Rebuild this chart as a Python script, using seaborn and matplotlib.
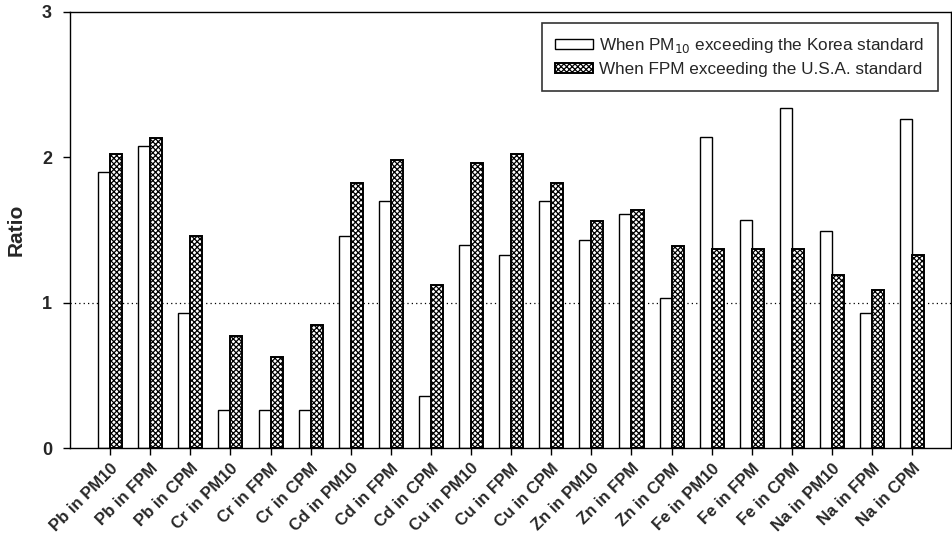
import matplotlib
matplotlib.use("Agg")
import matplotlib.pyplot as plt
import seaborn as sns
import pandas as pd

categories = [
    "Pb in PM10", "Pb in FPM", "Pb in CPM",
    "Cr in PM10", "Cr in FPM", "Cr in CPM",
    "Cd in PM10", "Cd in FPM", "Cd in CPM",
    "Cu in PM10", "Cu in FPM", "Cu in CPM",
    "Zn in PM10", "Zn in FPM", "Zn in CPM",
    "Fe in PM10", "Fe in FPM", "Fe in CPM",
    "Na in PM10", "Na in FPM", "Na in CPM",
]
korea_ratio = [1.90, 2.08, 0.93, 0.26, 0.26, 0.26, 1.46, 1.70, 0.36,
               1.40, 1.33, 1.70, 1.43, 1.61, 1.03, 2.14, 1.57, 2.34,
               1.49, 0.93, 2.26]
usa_ratio = [2.02, 2.13, 1.46, 0.77, 0.63, 0.85, 1.82, 1.98, 1.12,
             1.96, 2.02, 1.82, 1.56, 1.64, 1.39, 1.37, 1.37, 1.37,
             1.19, 1.09, 1.33]
series_names = ["When PM$_{10}$ exceeding the Korea standard",
                "When FPM exceeding the U.S.A. standard"]
y_ticks = [0, 1, 2, 3]

df = pd.DataFrame({
    "element": categories * 2,
    "ratio": korea_ratio + usa_ratio,
    "series": [series_names[0]] * len(categories) + [series_names[1]] * len(categories),
})

sns.set_style("ticks")
plt.rcParams["font.family"] = ["Liberation Sans", "DejaVu Sans"]
plt.rcParams["hatch.linewidth"] = 0.9
plt.rcParams["hatch.color"] = "black"

fig = plt.figure(figsize=(9.53, 5.36), dpi=100)
ax = fig.add_axes([0.0735, 0.1636, 0.9245, 0.8146])

# reference level at ratio = 1
ax.axhline(1.0, color="black", lw=0.9, ls=(0, (1, 2.5)), zorder=0)

sns.barplot(data=df, x="element", y="ratio", hue="series",
            hue_order=series_names, palette=["white", "white"],
            edgecolor="black", linewidth=1.0, width=0.6, gap=0,
            ax=ax, zorder=2, legend=False)

for bar in ax.containers[1]:
    bar.set_hatch("xxxxxx")
    bar.set_linewidth(1.4)

ax.set_xlim(-1.0, 20.97)
ax.set_ylim(0, 3)
ax.set_yticks(y_ticks)
ax.set_yticklabels([str(t) for t in y_ticks], fontsize=13, fontweight="bold")
ax.set_xticks(range(len(categories)))
ax.set_xticklabels(categories, rotation=45, ha="right", rotation_mode="anchor",
                   fontsize=12, fontweight="bold")
ax.tick_params(axis="both", direction="out", length=5, width=1, color="black")
ax.tick_params(axis="x", pad=4)
ax.tick_params(axis="y", pad=8)
ax.set_xlabel("")
ax.set_ylabel("Ratio", fontsize=15, fontweight="bold", labelpad=12)

for side in ["top", "right", "left", "bottom"]:
    ax.spines[side].set_visible(True)
    ax.spines[side].set_color("black")
    ax.spines[side].set_linewidth(1.0)

handles = [ax.containers[0].patches[0], ax.containers[1].patches[0]]
leg = ax.legend(handles, series_names, loc="upper right",
                bbox_to_anchor=(0.985, 0.975), fontsize=12.3,
                frameon=True, fancybox=False, shadow=False,
                handlelength=2.2, handleheight=0.55, handletextpad=0.35,
                borderpad=0.8, labelspacing=0.4, borderaxespad=0)
leg.get_frame().set_edgecolor("black")
leg.get_frame().set_linewidth(1.2)

fig.savefig("out.png", dpi=100)
